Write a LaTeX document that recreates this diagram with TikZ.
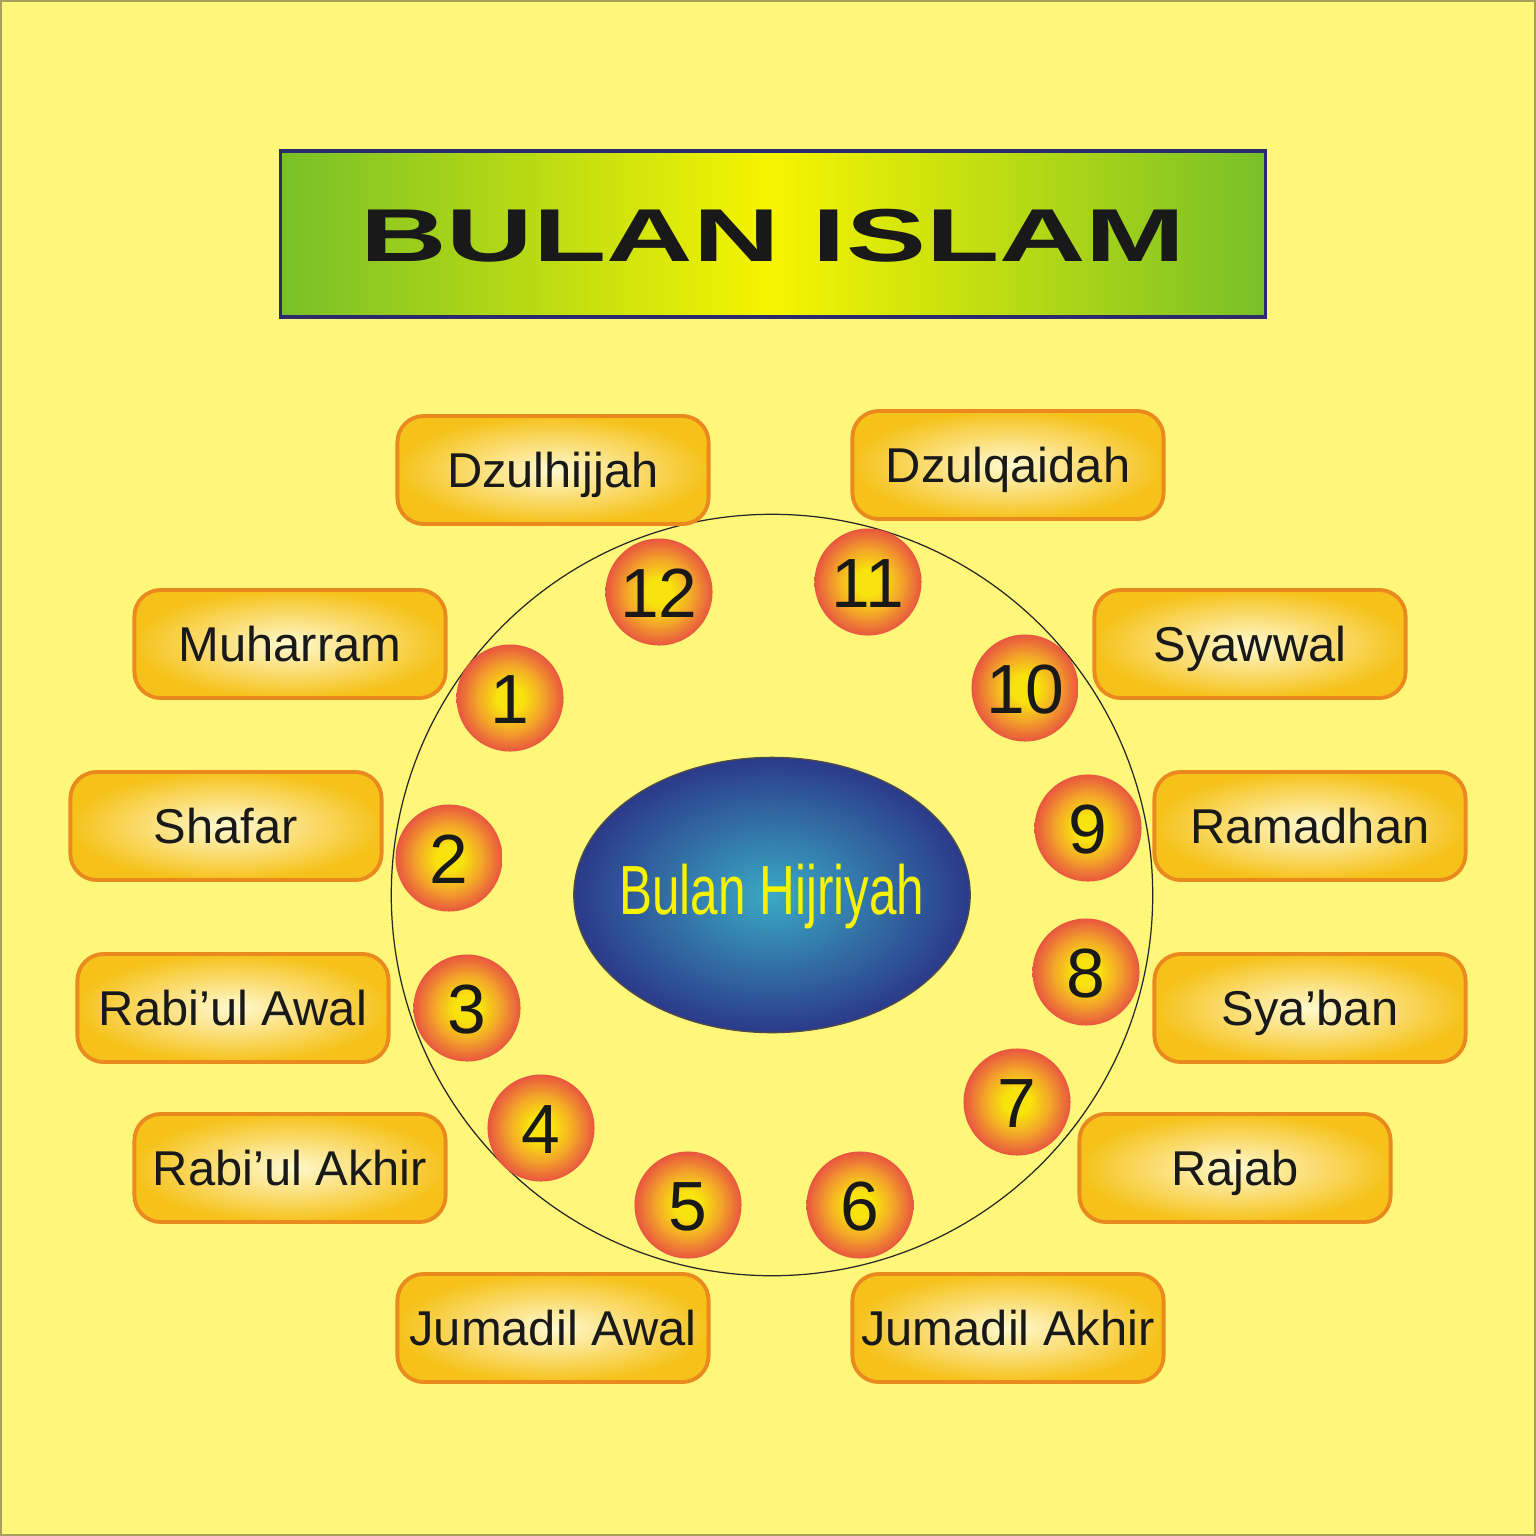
\documentclass[tikz,border=0pt]{standalone}
\usepackage{fontspec}
\setmainfont{Liberation Sans}
\usepackage{graphicx}
\definecolor{bgyellow}{HTML}{FFF77A}
\definecolor{framecol}{HTML}{A89F5A}
\definecolor{titlegreen}{HTML}{78C028}
\definecolor{titleyellow}{HTML}{F7F400}
\definecolor{titleborder}{HTML}{2B2A6B}
\definecolor{boxouter}{HTML}{F6C21A}
\definecolor{boxinner}{HTML}{FFF9CF}
\definecolor{boxborder}{HTML}{EA8A1E}
\definecolor{numinner}{HTML}{F8E40C}
\definecolor{nummid}{HTML}{F4A828}
\definecolor{numouter}{HTML}{E8563F}
\definecolor{hubinner}{HTML}{3AAAC4}
\definecolor{hubouter}{HTML}{2B3A8A}
\definecolor{hubtext}{HTML}{F8F400}
\usetikzlibrary{shapes.geometric}
\pgfdeclareradialshading{discshade}{\pgfpoint{0bp}{0bp}}{color(0bp)=(numinner); color(6bp)=(numinner); color(15bp)=(nummid); color(25bp)=(numouter); color(50bp)=(numouter)}
\begin{document}
\begin{tikzpicture}[x=0.01cm,y=-0.01cm,
  titlebox/.style={draw=titleborder, line width=0.9pt, minimum width=9.84cm, minimum height=1.66cm,
    inner sep=0pt, left color=titlegreen, right color=titlegreen, middle color=titleyellow,
    font=\fontsize{21.3pt}{24pt}\selectfont\bfseries, text=black!90, text height=0.54cm, text depth=0cm},
  monthbox/.style={draw=boxborder, line width=1.1pt, rounded corners=7.5pt, minimum width=3.11cm,
    minimum height=1.08cm, inner sep=0pt, inner color=boxinner, outer color=boxouter,
    font=\fontsize{13.9pt}{16pt}\selectfont, text=black!90, text height=0.35cm, text depth=0cm},
  numdisc/.style={circle, minimum size=1.07cm, inner sep=0pt, shading=discshade,
    font=\fontsize{19.8pt}{22pt}\selectfont, text=black!90, text height=0.5cm, text depth=0cm},
  ringline/.style={circle, draw=black!85, line width=0.35pt, minimum size=7.61cm, inner sep=0pt},
  hubshape/.style={ellipse, draw=black!70, line width=0.4pt, minimum width=3.96cm, minimum height=2.75cm,
    inner sep=0pt, inner color=hubinner, outer color=hubouter},
  hublabel/.style={inner sep=0pt, font=\fontsize{19.8pt}{22pt}\selectfont, text=hubtext,
    text height=0.5cm, text depth=0.12cm}
]
\useasboundingbox (0,0) rectangle (1536,1536);
\fill[bgyellow] (0,0) rectangle (1536,1536);
\draw[framecol, line width=0.7pt] (1,1) rectangle (1535,1535);

\node[titlebox] (title) at (773,234) {\scalebox{1.60}[1]{BULAN ISLAM}};

\node[ringline] (ring) at (772,895) {};
\node[hubshape] (hub) at (772,895) {};
\node[hublabel] (hubtext) at (hub.center) {\scalebox{0.71}[1]{Bulan Hijriyah}};

\node[monthbox] (m12) at (553,470) {Dzulhijjah};
\node[monthbox] (m11) at (1008,465) {Dzulqaidah};
\node[monthbox] (m1) at (290,644) {Muharram};
\node[monthbox] (m10) at (1250,644) {Syawwal};
\node[monthbox] (m2) at (226,826) {Shafar};
\node[monthbox] (m9) at (1310,826) {Ramadhan};
\node[monthbox] (m3) at (233,1008) {Rabi’ul Awal};
\node[monthbox] (m8) at (1310,1008) {Sya’ban};
\node[monthbox] (m4) at (290,1168) {Rabi’ul Akhir};
\node[monthbox] (m7) at (1235,1168) {Rajab};
\node[monthbox] (m5) at (553,1328) {Jumadil Awal};
\node[monthbox] (m6) at (1008,1328) {Jumadil Akhir};

\node[numdisc] (n12) at (659,592) {12};
\node[numdisc] (n11) at (868,582) {11};
\node[numdisc] (n10) at (1025,688) {10};
\node[numdisc] (n1) at (510,698) {1};
\node[numdisc] (n9) at (1088,828) {9};
\node[numdisc] (n2) at (449,858) {2};
\node[numdisc] (n8) at (1086,972) {8};
\node[numdisc] (n3) at (467,1008) {3};
\node[numdisc] (n7) at (1017,1102) {7};
\node[numdisc] (n4) at (541,1128) {4};
\node[numdisc] (n5) at (688,1205) {5};
\node[numdisc] (n6) at (860,1205) {6};
\end{tikzpicture}
\end{document}
